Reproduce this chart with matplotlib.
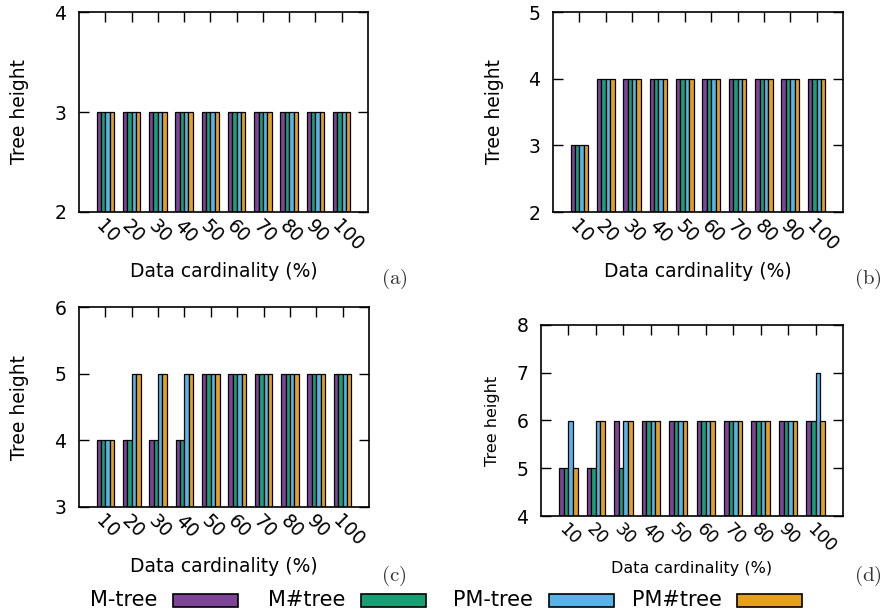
import numpy as np
import matplotlib
matplotlib.use("Agg")
import matplotlib.pyplot as plt
from matplotlib.patches import Rectangle

plt.rcParams['font.family'] = ['DejaVu Sans']
plt.rcParams['mathtext.fontset'] = 'cm'

# data
cardinality = ['10', '20', '30', '40', '50', '60', '70', '80', '90', '100']
series = ['M-tree', 'M#tree', 'PM-tree', 'PM#tree']
colors = ['#7D4497', '#1A9E74', '#56B4E9', '#E6A020']

# (a)
a_mtree   = [3, 3, 3, 3, 3, 3, 3, 3, 3, 3]
a_msharp  = [3, 3, 3, 3, 3, 3, 3, 3, 3, 3]
a_pmtree  = [3, 3, 3, 3, 3, 3, 3, 3, 3, 3]
a_pmsharp = [3, 3, 3, 3, 3, 3, 3, 3, 3, 3]
# (b)
b_mtree   = [3, 4, 4, 4, 4, 4, 4, 4, 4, 4]
b_msharp  = [3, 4, 4, 4, 4, 4, 4, 4, 4, 4]
b_pmtree  = [3, 4, 4, 4, 4, 4, 4, 4, 4, 4]
b_pmsharp = [3, 4, 4, 4, 4, 4, 4, 4, 4, 4]
# (c)
c_mtree   = [4, 4, 4, 4, 5, 5, 5, 5, 5, 5]
c_msharp  = [4, 4, 4, 4, 5, 5, 5, 5, 5, 5]
c_pmtree  = [4, 5, 5, 5, 5, 5, 5, 5, 5, 5]
c_pmsharp = [4, 5, 5, 5, 5, 5, 5, 5, 5, 5]
# (d)
d_mtree   = [5, 5, 6, 6, 6, 6, 6, 6, 6, 6]
d_msharp  = [5, 5, 5, 6, 6, 6, 6, 6, 6, 6]
d_pmtree  = [6, 6, 6, 6, 6, 6, 6, 6, 6, 7]
d_pmsharp = [5, 6, 6, 6, 6, 6, 6, 6, 6, 6]

W, H = 886, 614
fig = plt.figure(figsize=(W / 100, H / 100), dpi=100)


def add_ax(left, top, right, bottom):
    return fig.add_axes([left / W, 1 - bottom / H, (right - left) / W, (bottom - top) / H])


panels = [
    # pixel box, ylim, data, label, small, label pos, ylabel x, xlabel y
    ((79, 12, 368, 212), (2, 4), [a_mtree, a_msharp, a_pmtree, a_pmsharp], '(a)', False, (394, 279), 20, 272),
    ((553, 12, 843, 212), (2, 5), [b_mtree, b_msharp, b_pmtree, b_pmsharp], '(b)', False, (868, 279), 495, 272),
    ((79, 307, 369, 507), (3, 6), [c_mtree, c_msharp, c_pmtree, c_pmsharp], '(c)', False, (394, 576), 20, 567),
    ((541, 325, 843, 516), (4, 8), [d_mtree, d_msharp, d_pmtree, d_pmsharp], '(d)', True, (868, 576), 492, 568),
]

x = np.arange(len(cardinality))
bw = 1.0 / 6
for box, ylim, data, tag, small, tagpos, ylx, xly in panels:
    left, top, right, bottom = box
    ax = add_ax(*box)
    for i, vals in enumerate(data):
        ax.bar(x + (i - 1.5) * bw, np.array(vals) - ylim[0], bw, bottom=ylim[0],
               color=colors[i], edgecolor='black', linewidth=0.9, zorder=2)
    ax.set_xlim(-1, 10)
    ax.set_ylim(*ylim)
    ax.set_yticks(range(ylim[0], ylim[1] + 1))
    ax.set_xticks(x)
    ax.set_xticklabels(cardinality, rotation=-45, ha='left', va='top',
                       rotation_mode='anchor', fontsize=12.5 if small else 13.5)
    ax.tick_params(axis='both', direction='in', length=7, width=1, top=True, right=True)
    ax.tick_params(axis='y', pad=9, labelsize=13.5)
    ax.tick_params(axis='x', pad=3)
    ax.set_axisbelow(True)
    for s in ax.spines.values():
        s.set_linewidth(1.2)
    lsize = 11.5 if small else 13.5
    ax.set_ylabel('Tree height', fontsize=lsize)
    ax.set_xlabel('Data cardinality (%)', fontsize=lsize)
    ax.yaxis.set_label_coords((ylx - left) / (right - left), 0.5)
    ax.xaxis.set_label_coords(0.5, -(xly - bottom) / (bottom - top))
    ax.xaxis.label.set_va('center')
    ax.yaxis.label.set_va('center')
    fig.text(tagpos[0] / W, 1 - tagpos[1] / H, r'$\mathrm{' + tag + '}$',
             fontsize=15, ha='center', va='center', color='#333333')

# legend row
text_x = [90, 268, 453, 632]
box_x = [173, 361, 549, 737]
for name, c, tx, bx in zip(series, colors, text_x, box_x):
    fig.text(tx / W, 1 - 600 / H, name, fontsize=15, ha='left', va='center')
    fig.patches.append(Rectangle((bx / W, 1 - 607 / H), 65 / W, 13 / H,
                                 transform=fig.transFigure, facecolor=c,
                                 edgecolor='black', linewidth=1.2))

fig.savefig('out.png', dpi=100)
